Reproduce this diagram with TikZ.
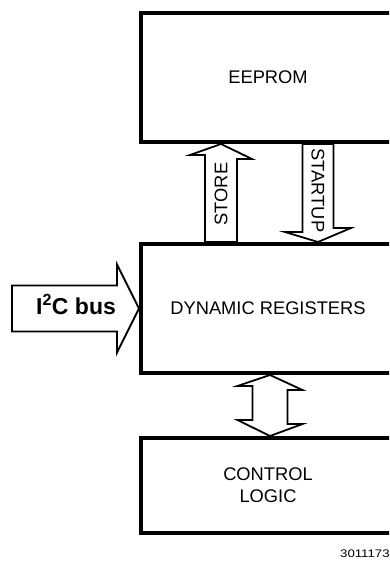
\documentclass[tikz,border=0pt]{standalone}
\usepackage{fontspec}
\setmainfont{Liberation Sans}
\usetikzlibrary{calc,positioning}

\begin{document}
\begin{tikzpicture}[x=1pt, y=1pt, node distance=231pt,
        block/.style={draw, rectangle, line width=4pt, minimum width=254pt, align=center, font=\fontsize{18.3}{22}\selectfont},
        blockarrow/.style={draw, line width=1.8pt, line join=miter},
        arrowlabel/.style={font=\fontsize{18.3}{22}\selectfont, inner sep=0pt}]
        \clip (0,0) rectangle (389,562);
        \useasboundingbox (0,0) rectangle (389,562);

        \node[block, minimum height=129pt] (eeprom) at (268,484.5) {EEPROM};
        \node[block, minimum height=129pt, below of=eeprom] (dyn) {DYNAMIC REGISTERS};
        \node[block, minimum height=95pt, below of=dyn, node distance=177pt] (ctrl) {CONTROL\\LOGIC};

        \coordinate (storex) at (221,0);
        \coordinate (startx) at (318,0);
        \coordinate (linkx) at (270,0);

        % store: registers -> eeprom
        \draw[blockarrow] (eeprom.south -| storex) -- ++(31,-15) -- ++(-15,0) -- ($(dyn.north -| storex)+(16,0)$)
            -- ($(dyn.north -| storex)+(-16,0)$) -- ++(0,87) -- ++(-15,0) -- cycle;
        % startup: eeprom -> registers
        \draw[blockarrow] (dyn.north -| startx) -- ++(33,14) -- ++(-17.5,0) -- ($(eeprom.south -| startx)+(15.5,0)$)
            -- ($(eeprom.south -| startx)+(-15.5,0)$) -- ++(0,-88) -- ++(-17.5,0) -- cycle;
        % registers <-> control logic
        \draw[blockarrow] (dyn.south -| linkx) -- ++(32.5,-15) -- ++(-15,0) -- ++(0,-34) -- ++(15,0) -- (ctrl.north -| linkx)
            -- ++(-32.5,16) -- ++(15,0) -- ++(0,34) -- ++(-15,0) -- cycle;
        % bus input
        \draw[blockarrow] (dyn.west) -- ++(-22,44) -- ++(0,-21) -- ++(-105,0) -- ++(0,-46) -- ++(105,0) -- ++(0,-21) -- cycle;

        \node[arrowlabel, rotate=90] (store) at (221,368) {STORE};
        \node[arrowlabel, rotate=-90] (startup) at (318,371.5) {STARTUP};
        \node[anchor=base, inner sep=0pt, font=\fontsize{23}{26}\selectfont\bfseries] (bus) at (76,247) {I\textsuperscript{2}C bus};
        \node[anchor=base west, inner sep=0pt, font=\fontsize{11}{13}\selectfont] (fignum) at (340,5) {\scalebox{1.2}[1]{3011173}};
    \end{tikzpicture}
\end{document}
